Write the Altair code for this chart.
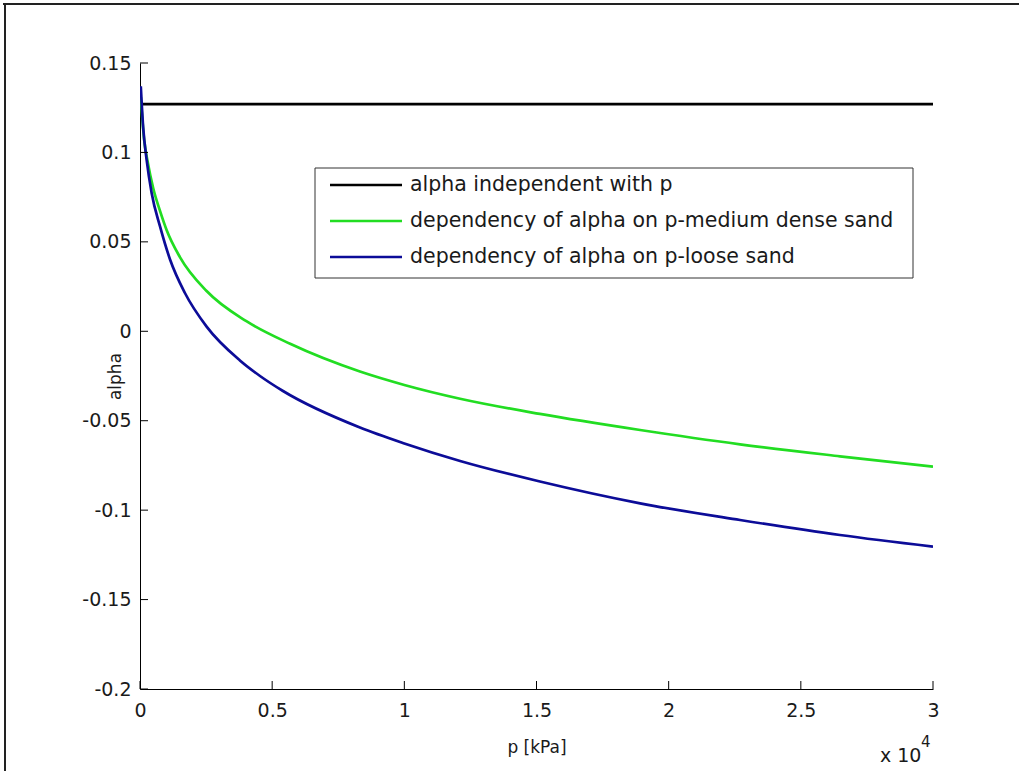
import altair as alt
import pandas as pd

# Series names and line colours
series_names = [
    "alpha independent with p",
    "dependency of alpha on p-medium dense sand",
    "dependency of alpha on p-loose sand",
]
series_colors = ["#000000", "#22dd22", "#0c0c98"]

# alpha independent of pressure (constant)
p_indep = [0, 30000]
alpha_indep = [0.127, 0.127]

# alpha vs p, medium dense sand
p_medium = [30, 150, 300, 500, 760, 1010, 1510, 2520, 4040, 5680, 8320,
            10000, 12110, 15130, 18920, 22700, 26480, 30000]
alpha_medium = [0.131, 0.108, 0.094, 0.080, 0.0672, 0.0565, 0.0415, 0.0225,
                0.0055, -0.0070, -0.0225, -0.0300, -0.0377, -0.0462,
                -0.0552, -0.0632, -0.0699, -0.0757]

# alpha vs p, loose sand
p_loose = [30, 120, 250, 440, 760, 1140, 1700, 2520, 3780, 4540, 5410, 8320,
           10000, 12110, 15130, 18920, 22700, 26480, 30000]
alpha_loose = [0.137, 0.114, 0.096, 0.0773, 0.0585, 0.040, 0.0214, 0.0026,
               -0.0163, -0.0250, -0.0334, -0.0538, -0.0627, -0.0725,
               -0.0840, -0.0962, -0.1055, -0.1139, -0.1204]

x_ticks = [0, 5000, 10000, 15000, 20000, 25000, 30000]
y_ticks = [-0.2, -0.15, -0.1, -0.05, 0, 0.05, 0.1, 0.15]

FONT = "DejaVu Sans"
TEXT = "#1a1a1a"
W, H = 793, 626

frames = []
for name, ps, als in zip(series_names,
                         [p_indep, p_medium, p_loose],
                         [alpha_indep, alpha_medium, alpha_loose]):
    frames.append(pd.DataFrame({"series": name, "p": ps, "alpha": als,
                                "idx": range(len(ps))}))
curves = pd.concat(frames, ignore_index=True)

color_scale = alt.Scale(domain=series_names, range=series_colors)
x_scale = alt.Scale(domain=[0, 30000], nice=False, zero=False)
y_scale = alt.Scale(domain=[-0.2, 0.15], nice=False, zero=False)

x_axis = alt.Axis(
    values=x_ticks, labelExpr="'' + datum.value / 10000", title="p [kPa]",
    ticks=False, tickSize=0, grid=False, domainColor="#000", domainWidth=1,
    labelFont=FONT, labelFontSize=19, labelColor=TEXT, labelPadding=12,
    labelFlush=False, labelOverlap=False,
    titleFont=FONT, titleFontSize=17, titleColor=TEXT, titleFontWeight="normal",
    titleX=W / 2, titleY=63, titleAlign="center", titleBaseline="alphabetic",
)
y_axis = alt.Axis(
    values=y_ticks, labelExpr="'' + datum.value", title="alpha",
    ticks=False, tickSize=0, grid=False, domainColor="#000", domainWidth=1,
    labelFont=FONT, labelFontSize=19, labelColor=TEXT, labelPadding=9,
    labelFlush=False, labelOverlap=False,
    titleFont=FONT, titleFontSize=17, titleColor=TEXT, titleFontWeight="normal",
    titleX=-16, titleY=H / 2, titleAngle=270, titleAlign="center",
    titleBaseline="bottom",
)

X = alt.X("p:Q", scale=x_scale, axis=x_axis)
Y = alt.Y("alpha:Q", scale=y_scale, axis=y_axis)
C = alt.Color("series:N", scale=color_scale, legend=None)

one = pd.DataFrame({"k": [0]})

# Figure frame (left and top edges)
frame_left = alt.Chart(one).mark_rule(color="#222", strokeWidth=2).encode(
    x=alt.value(-135), y=alt.value(-60), y2=alt.value(H + 82))
frame_top = alt.Chart(one).mark_rule(color="#222", strokeWidth=2).encode(
    x=alt.value(-137), x2=alt.value(W + 86), y=alt.value(-59))

# One line layer per series so the loose-sand curve is drawn on top
line_layers = []
for name in series_names:
    line_layers.append(
        alt.Chart(curves).transform_filter(alt.datum.series == name)
        .mark_line(strokeWidth=2.7, interpolate="monotone", clip=True)
        .encode(x=X, y=Y, color=C, order="idx:Q")
    )

# Inward-pointing ticks
ytick_df = pd.DataFrame({"alpha": y_ticks})
xtick_df = pd.DataFrame({"p": x_ticks})
yticks = alt.Chart(ytick_df).mark_rule(color="#000", strokeWidth=1).encode(
    y=Y, x=alt.value(0), x2=alt.value(8))
xticks = alt.Chart(xtick_df).mark_rule(color="#000", strokeWidth=1).encode(
    x=X, y=alt.value(H), y2=alt.value(H - 8))

# Axis multiplier "x 10^4" below the right end of the x axis
mult = alt.Chart(one).mark_text(
    text="x 10", font=FONT, fontSize=19, color=TEXT, align="left",
    baseline="alphabetic").encode(x=alt.value(740), y=alt.value(H + 73))
mult_exp = alt.Chart(one).mark_text(
    text="4", font=FONT, fontSize=15, color=TEXT, align="left",
    baseline="alphabetic").encode(x=alt.value(781), y=alt.value(H + 58))

main = alt.layer(frame_left, frame_top, *line_layers, yticks, xticks,
                 mult, mult_exp)

# Legend box
legend_df = pd.DataFrame({"series": series_names})
row_y = alt.Y("series:N", axis=None,
              scale=alt.Scale(type="point", domain=series_names,
                              range=[122, 194], padding=0))
box = alt.Chart(one).mark_rect(fill="white", stroke="#333",
                               strokeWidth=1).encode(
    x=alt.value(175), x2=alt.value(773), y=alt.value(105), y2=alt.value(215))
leg_lines = alt.Chart(legend_df).mark_rule(strokeWidth=2.7).encode(
    x=alt.value(190), x2=alt.value(262), y=row_y, color=C)
leg_text = alt.Chart(legend_df).mark_text(
    font=FONT, fontSize=20.5, color=TEXT, align="left", baseline="middle"
).encode(x=alt.value(270), y=row_y, text="series:N")
legend = alt.layer(box, leg_lines, leg_text)

chart = (
    alt.layer(main, legend)
    .resolve_scale(y="independent")
    .properties(width=W, height=H, autosize="none",
                padding={"left": 140, "top": 63, "right": 86, "bottom": 82},
                background="white")
    .configure_view(stroke=None)
)

chart.save("out.html", embed_options={"renderer": "svg", "actions": False})
